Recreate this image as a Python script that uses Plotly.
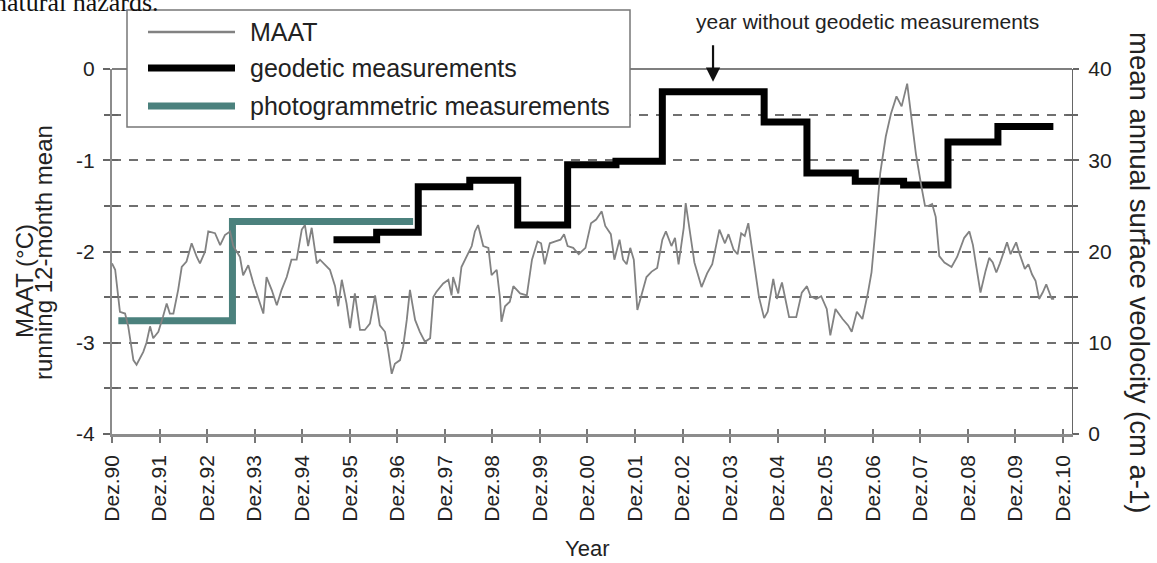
import plotly.graph_objects as go

# ---------------- data ----------------
# x = months since Dec 1990
tick_months = [0, 12, 24, 36, 48, 60, 72, 84, 96, 108, 120, 132, 144, 156, 168, 180, 192, 204, 216, 228, 240]
tick_labels = ["Dez.90", "Dez.91", "Dez.92", "Dez.93", "Dez.94", "Dez.95", "Dez.96", "Dez.97", "Dez.98", "Dez.99",
               "Dez.00", "Dez.01", "Dez.02", "Dez.03", "Dez.04", "Dez.05", "Dez.06", "Dez.07", "Dez.08", "Dez.09", "Dez.10"]
maat_ticks = [-4, -3, -2, -1, 0]
maat_tick_labels = ["-4", "-3", "-2", "-1", "0"]
vel_ticks = [0, 10, 20, 30, 40]
vel_tick_labels = ["0", "10", "20", "30", "40"]

maat_month = [0, 0.8, 2.0, 3.3, 4.1, 5.4, 6.2, 7.9, 8.7, 9.6, 10.4, 11.7, 12.9, 13.8, 14.6, 15.5, 16.7, 17.6, 18.8, 20.1,
              21.4, 22.2, 23.5, 24.3, 26.0, 27.3, 28.5, 29.8, 30.6, 32.3, 33.1, 34.4, 35.7, 38.2, 39.0, 40.3, 41.6, 42.8,
              44.1, 45.3, 46.6, 47.9, 48.7, 49.5, 50.4, 51.7, 52.5, 53.8, 55.0, 56.3, 57.1, 58.0, 59.2, 60.1, 61.3, 62.6,
              63.8, 65.1, 66.4, 67.6, 68.9, 69.7, 70.6, 71.4, 72.7, 73.5, 74.4, 75.2, 76.5, 77.7, 79.0, 80.3, 81.1, 81.9,
              83.6, 84.9, 85.7, 86.1, 87.4, 88.2, 89.5, 90.8, 91.6, 92.4, 93.7, 95.0, 95.8, 97.1, 97.9, 98.3, 99.2, 100.4,
              101.3, 103.0, 104.7, 106.0, 107.4, 108.3, 109.2, 110.5, 111.9, 113.2, 114.1, 115.0, 116.4, 117.8, 119.5,
              120.9, 122.2, 123.6, 124.5, 125.9, 126.8, 128.1, 129.0, 129.9, 130.8, 131.7, 132.6, 133.5, 134.9, 136.2,
              137.6, 138.9, 139.8, 141.2, 142.1, 143.0, 144.3, 144.8, 145.7, 147.0, 148.8, 150.2, 151.5, 152.4, 153.3,
              154.7, 155.6, 156.9, 157.9, 158.8, 159.7, 160.6, 161.5, 162.4, 163.3, 164.6, 165.5, 166.9, 167.8, 169.1,
              170.0, 170.9, 172.7, 174.1, 175.4, 176.3, 177.7, 179.0, 180.4, 181.3, 182.6, 184.4, 185.8, 186.7, 188.0,
              189.4, 190.8, 191.7, 192.6, 193.9, 195.3, 196.6, 198.0, 199.3, 200.7, 201.6, 202.9, 204.3, 205.2, 206.1,
              207.0, 207.9, 208.8, 210.1, 211.9, 213.3, 215.1, 216.4, 217.3, 218.2, 219.2, 220.5, 221.4, 222.3, 223.2,
              224.1, 225.9, 226.8, 228.2, 229.1, 230.4, 231.3, 232.2, 233.1, 234.0, 234.9, 235.8, 237.2, 237.8]
maat_value = [-2.13, -2.20, -2.66, -2.68, -2.82, -3.19, -3.24, -3.10, -3.00, -2.82, -2.95, -2.88, -2.71, -2.57, -2.68,
              -2.68, -2.42, -2.17, -2.11, -1.91, -2.06, -2.13, -2.00, -1.78, -1.80, -1.93, -1.82, -1.78, -1.94, -2.06,
              -2.26, -2.15, -2.35, -2.68, -2.28, -2.42, -2.59, -2.42, -2.28, -2.09, -2.09, -1.76, -1.71, -1.94, -1.74,
              -2.13, -2.09, -2.15, -2.20, -2.38, -2.60, -2.31, -2.57, -2.84, -2.46, -2.86, -2.86, -2.79, -2.48, -2.81,
              -2.88, -3.08, -3.34, -3.23, -3.19, -3.04, -2.75, -2.42, -2.75, -2.88, -2.99, -2.95, -2.50, -2.44, -2.35,
              -2.31, -2.48, -2.28, -2.46, -2.17, -2.06, -1.94, -1.78, -1.71, -1.94, -1.96, -2.26, -2.20, -2.50, -2.77,
              -2.60, -2.55, -2.38, -2.46, -2.48, -2.09, -1.89, -1.91, -2.14, -1.91, -1.89, -1.87, -1.81, -1.94, -1.96,
              -2.03, -1.96, -1.69, -1.65, -1.56, -1.72, -1.81, -2.09, -1.87, -2.09, -2.14, -1.96, -2.09, -2.64, -2.50,
              -2.28, -2.22, -2.18, -1.87, -1.78, -1.94, -1.85, -2.14, -1.74, -1.47, -1.74, -2.12, -2.39, -2.24, -2.14,
              -1.94, -1.76, -1.91, -1.81, -1.98, -2.03, -1.80, -1.83, -1.69, -1.96, -2.24, -2.50, -2.73, -2.66, -2.30,
              -2.52, -2.34, -2.52, -2.72, -2.72, -2.45, -2.38, -2.49, -2.52, -2.49, -2.63, -2.92, -2.63, -2.74, -2.81,
              -2.88, -2.66, -2.74, -2.45, -2.23, -1.80, -1.14, -0.74, -0.49, -0.30, -0.41, -0.16, -0.49, -0.93, -1.29,
              -1.50, -1.50, -1.48, -1.62, -2.05, -2.12, -2.17, -2.06, -1.85, -1.78, -1.93, -2.18, -2.45, -2.21, -2.07,
              -2.12, -2.23, -2.13, -1.90, -2.03, -1.90, -2.03, -2.19, -2.14, -2.25, -2.32, -2.52, -2.45, -2.36, -2.52,
              -2.52]

geo_edges = [55.9, 66.8, 77.3, 90.3, 102.4, 115.0, 127.2, 138.9, 164.6, 175.4, 187.6, 199.8, 211.0, 223.6, 237.6]
geo_velocity = [21.3, 22.1, 27.1, 27.8, 22.9, 29.5, 29.9, 37.5, 34.2, 28.6, 27.7, 27.3, 32.0, 33.7]

photo_edges = [1.6, 30.4, 76.0]
photo_velocity = [12.4, 23.3]

names = ["MAAT", "geodetic measurements", "photogrammetric measurements"]

# ---------------- styling ----------------
FONT = "Liberation Sans, Arial, sans-serif"
TXT = "#222222"
C_MAAT = "#828282"
C_GEO = "#000000"
C_PHOTO = "#4b817d"
X_RANGE = [0, 242.3]

fig = go.Figure()

fig.add_trace(go.Scatter(x=geo_edges, y=geo_velocity + [geo_velocity[-1]], mode="lines", line_shape="hv",
                         line=dict(color=C_GEO, width=7), name=names[1], xaxis="x", yaxis="y", showlegend=False))
fig.add_trace(go.Scatter(x=photo_edges, y=photo_velocity + [photo_velocity[-1]], mode="lines", line_shape="hv",
                         line=dict(color=C_PHOTO, width=7), name=names[2], xaxis="x", yaxis="y", showlegend=False))
fig.add_trace(go.Scatter(x=maat_month, y=maat_value, mode="lines",
                         line=dict(color=C_MAAT, width=1.8), name=names[0], xaxis="x", yaxis="y2", showlegend=False))
# empty helper traces so the tick-only overlay axes are drawn
for xa, ya in [("x2", "y"), ("x", "y3"), ("x", "y4")]:
    fig.add_trace(go.Scatter(x=[], y=[], xaxis=xa, yaxis=ya, showlegend=False, hoverinfo="skip"))

tickfont = dict(family=FONT, size=21, color=TXT)

fig.update_layout(
    width=1157, height=563, autosize=False,
    margin=dict(l=112, r=85, t=69, b=129),
    paper_bgcolor="white", plot_bgcolor="white",
    showlegend=False,
    xaxis=dict(range=X_RANGE, tickmode="array", tickvals=tick_months, ticktext=tick_labels, tickangle=-90,
               ticks="outside", ticklen=6, tickwidth=1.5, tickcolor="#777777", showline=True, linecolor="#8c8c8c",
               linewidth=2.5, showgrid=False, zeroline=False, tickfont=tickfont, ticklabelstandoff=4),
    xaxis2=dict(range=X_RANGE, overlaying="x", anchor="y", side="bottom", tickmode="array", tickvals=tick_months,
                ticks="inside", ticklen=5, tickwidth=1.5, tickcolor="#777777", showticklabels=False,
                showline=False, showgrid=False, zeroline=False),
    yaxis=dict(range=[0, 40], side="right", anchor="x", tickmode="array", tickvals=vel_ticks,
               ticktext=vel_tick_labels,
               ticks="outside", ticklen=6, tickwidth=1.5, tickcolor="#666666",
               minor=dict(dtick=5, tick0=0, ticks="outside", ticklen=5, tickwidth=1.5, tickcolor="#666666",
                          showgrid=True, gridcolor="#707070", gridwidth=1.6, griddash="9px,8px"),
               showgrid=True, gridcolor="#707070", gridwidth=1.6, griddash="9px,8px",
               showline=True, linecolor="#666666", linewidth=1.3, zeroline=False,
               tickfont=tickfont, ticklabelstandoff=5),
    yaxis2=dict(range=[-4, 0], overlaying="y", side="left", anchor="x", tickmode="array", tickvals=maat_ticks,
                ticktext=maat_tick_labels,
                ticks="outside", ticklen=7, tickwidth=1.5, tickcolor="#666666",
                minor=dict(dtick=0.5, tick0=-4, ticks="outside", ticklen=6, tickwidth=1.5, tickcolor="#666666",
                           showgrid=False),
                showgrid=False, showline=True, linecolor="#8c8c8c", linewidth=2.2, zeroline=False,
                tickfont=tickfont, ticklabelstandoff=4),
    yaxis3=dict(range=[-4, 0], overlaying="y", side="left", anchor="x", tickmode="linear", tick0=-4, dtick=0.5,
                ticks="inside", ticklen=6, tickwidth=1.5, tickcolor="#666666", showticklabels=False,
                showgrid=False, showline=False, zeroline=False),
    yaxis4=dict(range=[0, 40], overlaying="y", side="right", anchor="x", tickmode="linear", tick0=0, dtick=5,
                ticks="inside", ticklen=6, tickwidth=1.5, tickcolor="#666666", showticklabels=False,
                showgrid=False, showline=False, zeroline=False),
)

# pixel -> paper helpers (plot area: x 112..1072, y 69..434)
def px(xp):
    return (xp - 112) / 960.0

def py(yp):
    return (434 - yp) / 365.0

shapes = [
    # top border of plot area
    dict(type="line", xref="paper", yref="paper", x0=0, x1=1, y0=1, y1=1, line=dict(color="#555555", width=1.3)),
    # legend box
    dict(type="rect", xref="paper", yref="paper", x0=px(127), x1=px(630), y0=py(127), y1=py(10),
         fillcolor="white", line=dict(color="#777777", width=1.5), layer="above"),
]
legend_rows = [(32, C_MAAT, 2.5), (68, C_GEO, 7), (106, C_PHOTO, 7)]
for (yy, col, w) in legend_rows:
    shapes.append(dict(type="line", xref="paper", yref="paper", x0=px(148), x1=px(235), y0=py(yy), y1=py(yy),
                       line=dict(color=col, width=w), layer="above"))

annotations = []
for (yy, col, w), nm in zip(legend_rows, names):
    annotations.append(dict(text=nm, xref="paper", yref="paper", x=px(248), y=py(yy), xanchor="left",
                            yanchor="middle", showarrow=False, font=dict(family=FONT, size=25, color=TXT)))

# left axis title (two lines)
annotations.append(dict(text="MAAT (°C)", xref="paper", yref="paper", x=px(24), y=py(281), xanchor="center",
                        yanchor="middle", textangle=-90, showarrow=False, font=dict(family=FONT, size=24, color=TXT)))
annotations.append(dict(text="running 12-month mean", xref="paper", yref="paper", x=px(44), y=py(253),
                        xanchor="center", yanchor="middle", textangle=-90, showarrow=False,
                        font=dict(family=FONT, size=24, color=TXT)))
# right axis title
annotations.append(dict(text="mean annual surface veolocity (cm a-1)", xref="paper", yref="paper", x=px(1140),
                        y=py(272), xanchor="center", yanchor="middle", textangle=90, showarrow=False,
                        font=dict(family=FONT, size=27.5, color=TXT)))
# x axis title
annotations.append(dict(text="Year", xref="paper", yref="paper", x=px(587), y=py(548), xanchor="center",
                        yanchor="middle", showarrow=False, font=dict(family=FONT, size=22, color=TXT)))
# note + arrow
annotations.append(dict(text="year without geodetic measurements", xref="paper", yref="paper", x=px(694), y=py(22),
                        xanchor="left", yanchor="middle", showarrow=False, font=dict(family=FONT, size=21, color=TXT)))
annotations.append(dict(text="", xref="x", yref="y", x=151.7, y=38.6, ax=0, ay=-38, showarrow=True,
                        arrowhead=2, arrowsize=1.3, arrowwidth=2.2, arrowcolor="#111111"))
# clipped caption line above the figure
annotations.append(dict(text="natural hazards.", xref="paper", yref="paper", x=px(-8), y=py(19), xanchor="left",
                        yanchor="bottom", showarrow=False, font=dict(family="Liberation Serif, Times New Roman, serif",
                                                                      size=26, color="#111111")))

fig.update_layout(shapes=shapes, annotations=annotations)

fig.write_html("out.html", config={"displayModeBar": False},
               post_script="document.body.style.margin='0px';document.body.style.padding='0px';")
